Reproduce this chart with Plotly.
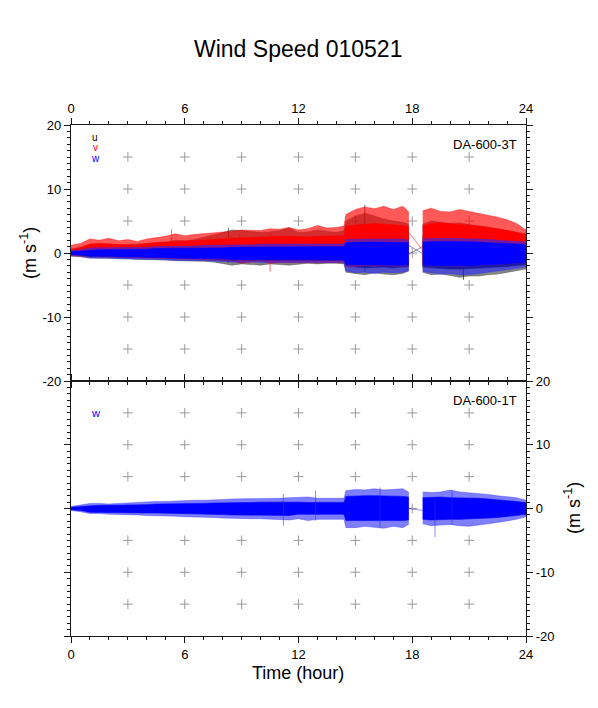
import plotly.graph_objects as go

W, H = 598, 708

# ---------------- data (m/s) ----------------
T_A = [0, 0.5, 1, 1.5, 2, 2.5, 3, 3.5, 4, 4.5, 5, 5.5, 6, 6.5, 7, 7.5, 8, 8.5, 9, 9.5,
       10, 10.5, 11, 11.5, 12, 12.5, 13, 13.5, 14, 14.4, 14.5, 15, 15.5, 16, 16.5, 17, 17.5, 17.8]
T_B = [18.55, 19, 19.5, 20, 20.5, 21, 21.5, 22, 22.5, 23, 23.5, 24]
T_BRIDGE = [17.8, 18.55]

# DA-600-3T  u (black)
u_core_hi_A = [0.3, 0.5, 0.8, 0.8, 0.8, 0.8, 0.8, 0.8, 0.9, 1.0, 1.0, 1.1, 1.1, 1.2, 1.3, 1.4, 1.6, 1.8, 2.0, 1.9,
               2.0, 2.1, 2.1, 2.2, 2.0, 2.0, 2.0, 2.0, 2.0, 2.0, 3.0, 3.5, 3.4, 3.2, 3.0, 3.0, 2.9, 2.8]
u_peak_hi_A = [0.6, 0.9, 1.3, 1.2, 1.3, 1.2, 1.3, 1.3, 1.5, 1.6, 1.7, 2.0, 1.9, 2.1, 2.4, 2.8, 3.2, 3.6, 3.5, 3.4,
               3.2, 3.3, 3.5, 3.9, 3.2, 3.3, 3.6, 3.4, 3.2, 3.5, 5.0, 5.8, 6.2, 5.8, 5.3, 5.0, 4.8, 4.5]
u_core_lo_A = [-0.3, -0.4, -0.5, -0.5, -0.5, -0.6, -0.6, -0.6, -0.7, -0.7, -0.8, -0.8, -0.8, -0.9, -0.9, -1.0, -1.1, -1.2, -1.2, -1.2,
               -1.3, -1.3, -1.3, -1.3, -1.2, -1.2, -1.2, -1.2, -1.2, -1.2, -2.0, -2.2, -2.3, -2.3, -2.2, -2.3, -2.2, -2.1]
u_peak_lo_A = [-0.5, -0.6, -0.8, -0.8, -0.8, -0.9, -0.9, -1.0, -1.0, -1.1, -1.1, -1.2, -1.2, -1.3, -1.3, -1.4, -1.6, -1.9, -1.7, -1.8,
               -1.9, -1.7, -1.8, -1.9, -1.7, -1.6, -1.7, -1.6, -1.6, -1.7, -3.0, -3.2, -3.4, -3.1, -3.3, -3.4, -3.2, -2.8]
u_core_hi_B = [2.6, 2.8, 2.9, 2.8, 2.8, 2.7, 2.6, 2.5, 2.4, 2.3, 2.2, 2.0]
u_peak_hi_B = [4.5, 5.0, 4.8, 4.6, 4.7, 4.5, 4.3, 4.0, 3.8, 3.5, 3.3, 3.0]
u_core_lo_B = [-2.2, -2.4, -2.4, -2.5, -2.5, -2.5, -2.4, -2.3, -2.2, -2.1, -2.0, -1.8]
u_peak_lo_B = [-3.0, -3.4, -3.3, -3.5, -3.8, -3.6, -3.6, -3.4, -3.3, -3.0, -2.8, -2.5]
u_bridge = [-0.2, 1.0]
u_spike_t = [8.3, 15.5, 20.7]
u_spike_lo = [-1.5, -3.0, -4.2]
u_spike_hi = [3.9, 7.5, 2.5]

# DA-600-3T  v (red)
v_core_hi_A = [0.6, 0.8, 1.4, 1.5, 1.4, 1.3, 1.3, 1.2, 1.5, 1.6, 1.7, 1.8, 1.8, 1.9, 2.0, 2.1, 2.2, 2.3, 2.4, 2.4,
               2.5, 2.5, 2.6, 2.6, 2.5, 2.5, 2.6, 2.6, 2.6, 2.7, 4.2, 4.4, 4.5, 4.6, 4.5, 4.4, 4.3, 4.1]
v_peak_hi_A = [1.2, 1.5, 2.2, 2.0, 2.3, 1.9, 2.1, 1.8, 2.2, 2.4, 2.6, 3.0, 2.7, 2.9, 3.0, 3.2, 3.3, 3.4, 3.6, 3.6,
               3.5, 3.8, 3.7, 4.0, 3.6, 3.8, 4.3, 3.9, 4.0, 4.2, 6.0, 6.8, 7.2, 6.9, 7.3, 6.8, 7.3, 6.5]
v_core_lo_A = [-0.2, -0.3, -0.4, -0.4, -0.4, -0.4, -0.5, -0.5, -0.5, -0.6, -0.6, -0.6, -0.7, -0.7, -0.7, -0.8, -0.8, -0.9, -0.9, -1.0,
               -1.0, -1.0, -1.0, -1.0, -1.0, -1.0, -1.0, -1.0, -1.0, -1.0, -1.5, -1.5, -1.5, -1.5, -1.5, -1.5, -1.5, -1.5]
v_peak_lo_A = [-0.4, -0.5, -0.6, -0.6, -0.6, -0.7, -0.7, -0.8, -0.8, -0.8, -0.9, -0.9, -1.0, -1.0, -1.0, -1.1, -1.2, -1.3, -1.6, -1.4,
               -1.3, -1.6, -1.5, -1.4, -1.5, -1.4, -1.5, -1.4, -1.5, -1.5, -2.1, -2.2, -2.0, -2.1, -2.0, -2.0, -2.1, -1.9]
v_core_hi_B = [4.3, 4.6, 4.7, 4.6, 4.5, 4.4, 4.2, 4.0, 3.8, 3.5, 3.2, 2.8]
v_peak_hi_B = [6.6, 7.0, 6.5, 6.4, 6.8, 6.5, 6.3, 6.0, 5.6, 5.2, 4.6, 3.6]
v_core_lo_B = [-1.5, -1.5, -1.5, -1.5, -1.5, -1.5, -1.4, -1.4, -1.4, -1.3, -1.3, -1.2]
v_peak_lo_B = [-2.0, -2.1, -2.0, -2.0, -2.1, -2.0, -1.9, -1.9, -1.8, -1.7, -1.6, -1.5]
v_bridge = [3.3, 0.4]
v_spike_t = [5.3, 8.9, 10.5]
v_spike_lo = [-0.5, -1.6, -2.9]
v_spike_hi = [3.7, 3.0, 3.0]

# DA-600-3T  w (blue)
w3_core_hi_A = [0.2, 0.3, 0.5, 0.5, 0.5, 0.5, 0.6, 0.6, 0.6, 0.7, 0.7, 0.7, 0.7, 0.8, 0.8, 0.8, 0.8, 0.9, 0.9, 0.9,
                1.0, 1.0, 1.0, 1.0, 1.0, 1.0, 1.0, 1.0, 1.0, 1.0, 1.6, 1.7, 1.7, 1.7, 1.7, 1.7, 1.7, 1.6]
w3_peak_hi_A = [0.4, 0.5, 0.8, 0.8, 0.8, 0.8, 0.9, 0.9, 0.9, 1.0, 1.0, 1.1, 1.1, 1.1, 1.2, 1.2, 1.2, 1.3, 1.3, 1.3,
                1.4, 1.4, 1.4, 1.4, 1.4, 1.4, 1.4, 1.4, 1.4, 1.4, 2.1, 2.2, 2.2, 2.2, 2.2, 2.1, 2.2, 2.0]
w3_core_lo_A = [-0.2, -0.3, -0.5, -0.5, -0.5, -0.6, -0.6, -0.6, -0.7, -0.7, -0.7, -0.8, -0.8, -0.8, -0.9, -0.9, -0.9, -1.0, -1.0, -1.0,
                -1.0, -1.1, -1.1, -1.1, -1.1, -1.1, -1.1, -1.1, -1.1, -1.1, -1.8, -1.9, -1.9, -1.9, -1.9, -1.9, -1.9, -1.8]
w3_peak_lo_A = [-0.4, -0.5, -0.8, -0.8, -0.8, -0.9, -0.9, -1.0, -1.0, -1.0, -1.1, -1.1, -1.2, -1.2, -1.2, -1.3, -1.3, -1.4, -1.5, -1.4,
                -1.5, -1.5, -1.5, -1.6, -1.5, -1.5, -1.5, -1.5, -1.5, -1.5, -2.8, -3.1, -3.0, -3.2, -3.0, -3.1, -3.0, -2.8]
w3_core_hi_B = [1.7, 1.8, 1.8, 1.8, 1.8, 1.7, 1.7, 1.6, 1.6, 1.5, 1.4, 1.3]
w3_peak_hi_B = [2.2, 2.3, 2.3, 2.3, 2.3, 2.2, 2.2, 2.1, 2.0, 1.9, 1.8, 1.7]
w3_core_lo_B = [-1.9, -2.0, -2.0, -2.0, -2.0, -2.0, -1.9, -1.9, -1.8, -1.7, -1.6, -1.5]
w3_peak_lo_B = [-2.9, -3.1, -3.3, -3.2, -3.4, -3.4, -3.1, -3.0, -2.8, -2.6, -2.4, -2.2]
w3_bridge = [1.2, -0.1]

# DA-600-1T  w (blue)
w1_core_hi_A = [0.2, 0.3, 0.5, 0.5, 0.5, 0.5, 0.6, 0.6, 0.6, 0.7, 0.7, 0.7, 0.75, 0.8, 0.8, 0.85, 0.85, 0.9, 0.95, 0.95,
                1.0, 1.0, 1.0, 1.1, 1.0, 0.95, 0.95, 0.95, 0.95, 0.95, 1.9, 2.0, 2.0, 2.0, 2.0, 1.9, 1.9, 1.8]
w1_peak_hi_A = [0.3, 0.5, 0.8, 0.8, 0.7, 0.8, 0.9, 0.9, 1.0, 1.1, 1.1, 1.2, 1.2, 1.3, 1.3, 1.3, 1.4, 1.5, 1.5, 1.6,
                1.5, 1.5, 1.6, 1.7, 1.7, 1.8, 1.6, 1.6, 1.7, 1.6, 2.8, 3.0, 2.9, 3.1, 2.9, 3.0, 3.1, 2.6]
w1_core_lo_A = [-0.2, -0.3, -0.6, -0.6, -0.6, -0.6, -0.7, -0.7, -0.7, -0.7, -0.75, -0.8, -0.85, -0.85, -0.9, -0.9, -0.95, -1.0, -1.0, -1.0,
                -1.05, -1.1, -1.1, -1.1, -0.9, -0.9, -0.9, -0.9, -0.9, -0.9, -1.9, -1.9, -1.9, -1.9, -1.9, -1.9, -1.9, -1.8]
w1_peak_lo_A = [-0.3, -0.5, -0.8, -0.8, -0.9, -0.9, -1.0, -1.0, -1.1, -1.1, -1.2, -1.2, -1.3, -1.3, -1.4, -1.4, -1.5, -1.5, -1.6, -1.6,
                -1.6, -1.7, -1.7, -1.8, -1.6, -1.9, -1.7, -1.6, -1.7, -1.7, -3.0, -3.0, -2.8, -3.0, -3.1, -2.8, -3.0, -2.5]
w1_core_hi_B = [1.7, 1.8, 1.8, 1.7, 1.7, 1.7, 1.6, 1.5, 1.4, 1.3, 1.1, 0.9]
w1_peak_hi_B = [2.6, 2.5, 2.6, 2.9, 2.6, 2.5, 2.3, 2.2, 2.0, 1.9, 1.7, 1.3]
w1_core_lo_B = [-1.7, -1.8, -1.8, -1.7, -1.7, -1.7, -1.6, -1.5, -1.4, -1.3, -1.1, -0.9]
w1_peak_lo_B = [-2.4, -2.7, -2.6, -2.5, -2.7, -2.8, -2.6, -2.4, -2.2, -2.0, -1.7, -1.3]
w1_bridge = [0.0, -0.3]
w1_spike_t = [11.2, 12.9, 16.3, 19.2, 20.1]
w1_spike_lo = [-2.7, -1.9, -3.0, -4.5, -2.5]
w1_spike_hi = [2.3, 2.8, 3.3, 1.5, 2.9]

# axes / grid
X_TICKS = [0, 6, 12, 18, 24]
Y_TICKS = [-20, -10, 0, 10, 20]
GRID_X = [3, 6, 9, 12, 15, 18, 21]
GRID_Y = [-15, -10, -5, 0, 5, 10, 15]

FONT = "Liberation Sans, Arial, sans-serif"
AX = "#1a1a1a"

# ---------------- figure ----------------
fig = go.Figure()


def band(t, hi, lo, color, xa, ya, lw=0.6):
    fig.add_trace(go.Scatter(
        x=list(t) + list(t)[::-1], y=list(hi) + list(lo)[::-1],
        fill="toself", fillcolor=color, line=dict(width=lw, color=color),
        mode="lines", xaxis=xa, yaxis=ya, hoverinfo="skip", showlegend=False))


def spikes(ts, lo, hi, color, xa, ya):
    xs, ys = [], []
    for t, a, b in zip(ts, lo, hi):
        xs += [t, t, None]
        ys += [a, b, None]
    fig.add_trace(go.Scatter(x=xs, y=ys, mode="lines", line=dict(width=1, color=color),
                             xaxis=xa, yaxis=ya, hoverinfo="skip", showlegend=False))


def bridge(vals, color, xa, ya):
    fig.add_trace(go.Scatter(x=T_BRIDGE, y=vals, mode="lines", line=dict(width=0.7, color=color),
                             xaxis=xa, yaxis=ya, hoverinfo="skip", showlegend=False))


def series(data, colors, xa, ya):
    (cA_hi, pA_hi, cA_lo, pA_lo, cB_hi, pB_hi, cB_lo, pB_lo) = data
    outer, core = colors
    band(T_A, pA_hi, pA_lo, outer, xa, ya)
    band(T_B, pB_hi, pB_lo, outer, xa, ya)
    band(T_A, cA_hi, cA_lo, core, xa, ya)
    band(T_B, cB_hi, cB_lo, core, xa, ya)


# grid crosses (drawn first, under the data)
gx = [x for x in GRID_X for _ in GRID_Y]
gy = [y for _ in GRID_X for y in GRID_Y]
for xa, ya in (("x2", "y2"), ("x", "y")):
    fig.add_trace(go.Scatter(x=gx, y=gy, mode="markers", xaxis=xa, yaxis=ya,
                             marker=dict(symbol="cross-thin", size=7,
                                         line=dict(width=1, color="#9a9a9a")),
                             hoverinfo="skip", showlegend=False))

# top panel: u, v, w
series((u_core_hi_A, u_peak_hi_A, u_core_lo_A, u_peak_lo_A,
        u_core_hi_B, u_peak_hi_B, u_core_lo_B, u_peak_lo_B),
       ("rgba(50,50,50,0.6)", "rgba(0,0,0,0.9)"), "x2", "y2")
spikes(u_spike_t, u_spike_lo, u_spike_hi, "rgba(0,0,0,0.6)", "x2", "y2")
bridge(u_bridge, "rgba(0,0,0,0.6)", "x2", "y2")

series((v_core_hi_A, v_peak_hi_A, v_core_lo_A, v_peak_lo_A,
        v_core_hi_B, v_peak_hi_B, v_core_lo_B, v_peak_lo_B),
       ("rgba(255,0,0,0.65)", "rgba(255,0,0,1)"), "x2", "y2")
spikes(v_spike_t, v_spike_lo, v_spike_hi, "rgba(255,0,0,0.6)", "x2", "y2")
bridge(v_bridge, "rgba(255,0,0,0.7)", "x2", "y2")

series((w3_core_hi_A, w3_peak_hi_A, w3_core_lo_A, w3_peak_lo_A,
        w3_core_hi_B, w3_peak_hi_B, w3_core_lo_B, w3_peak_lo_B),
       ("rgba(40,40,255,0.6)", "rgba(0,0,255,1)"), "x2", "y2")
bridge(w3_bridge, "rgba(0,0,255,0.7)", "x2", "y2")

# bottom panel: w
series((w1_core_hi_A, w1_peak_hi_A, w1_core_lo_A, w1_peak_lo_A,
        w1_core_hi_B, w1_peak_hi_B, w1_core_lo_B, w1_peak_lo_B),
       ("rgba(40,40,255,0.6)", "rgba(0,0,255,1)"), "x", "y")
spikes(w1_spike_t, w1_spike_lo, w1_spike_hi, "rgba(40,40,255,0.55)", "x", "y")
bridge(w1_bridge, "rgba(0,0,255,0.6)", "x", "y")

# ---------------- layout ----------------
XL, XR = 71 / W, 526 / W
Y_TOP, Y_MID, Y_BOT = 1 - 125 / H, 1 - 381 / H, 1 - 636 / H

common_x = dict(range=[0, 24], tickmode="array", tickvals=X_TICKS, ticktext=[str(v) for v in X_TICKS],
                ticks="outside", ticklen=6, tickwidth=1, tickcolor=AX,
                minor=dict(tickmode="linear", tick0=0, dtick=1, ticks="outside", ticklen=3,
                           tickcolor=AX, tickwidth=1, showgrid=False),
                showline=True, linecolor=AX, linewidth=1.3, mirror="ticks",
                showgrid=False, zeroline=False, fixedrange=True, automargin=False,
                tickfont=dict(family=FONT, size=13, color="black"), domain=[XL, XR])
common_y = dict(range=[-20, 20], tickmode="array", tickvals=Y_TICKS, ticktext=[str(v) for v in Y_TICKS],
                ticks="outside", ticklen=6, tickwidth=1, tickcolor=AX,
                minor=dict(tickmode="linear", tick0=0, dtick=1, ticks="outside", ticklen=3,
                           tickcolor=AX, tickwidth=1, showgrid=False),
                showline=True, linecolor=AX, linewidth=1.3, mirror="ticks",
                showgrid=False, zeroline=False, fixedrange=True, automargin=False,
                tickfont=dict(family=FONT, size=13, color="black"))

fig.update_layout(
    width=W, height=H, margin=dict(l=0, r=0, t=0, b=0, autoexpand=False),
    paper_bgcolor="white", plot_bgcolor="white", showlegend=False,
    xaxis=dict(common_x, anchor="y", side="bottom"),
    yaxis=dict(common_y, anchor="x", side="right", domain=[Y_BOT, Y_MID]),
    xaxis2=dict(common_x, anchor="y2", side="top"),
    yaxis2=dict(common_y, anchor="x2", side="left", domain=[Y_MID, Y_TOP]),
)


def ann(text, px, py, size, color="black", angle=0, xanchor="center"):
    fig.add_annotation(text=text, x=px / W, y=1 - py / H, xref="paper", yref="paper",
                       showarrow=False, textangle=angle, xanchor=xanchor, yanchor="middle",
                       font=dict(family=FONT, size=size, color=color))


ann("Wind Speed 010521", 298, 49, 23)
ann("Time (hour)", 298, 673, 18)
ann("(m s<sup>-1</sup>)", 28, 253, 18, angle=-90)
ann("(m s<sup>-1</sup>)", 572, 508, 18, angle=-90)
ann("DA-600-3T", 519, 145, 13, xanchor="right")
ann("DA-600-1T", 519, 400, 13, xanchor="right")
ann("u", 95, 137.5, 10, "black")
ann("v", 95, 148, 10, "red")
ann("w", 95, 158.5, 10, "blue")
ann("w", 95, 413, 11, "blue")

fig.write_html("out.html", config={"displayModeBar": False},
               post_script="document.body.style.margin='0';document.body.style.padding='0';")
